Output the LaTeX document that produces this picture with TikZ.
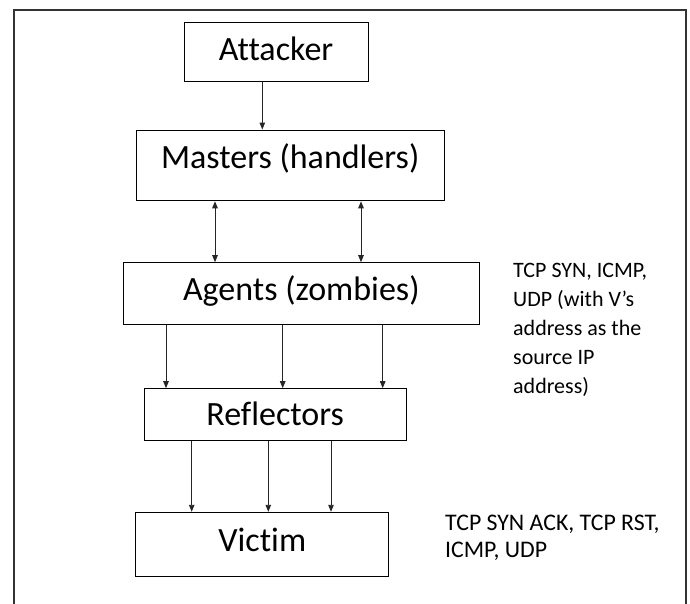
\documentclass[tikz,border=0pt]{standalone}
\usepackage{fontspec}
\setmainfont{Carlito}[Ligatures=NoCommon]
\usetikzlibrary{arrows.meta}
\begin{document}
\begin{tikzpicture}[x=1pt,y=-1pt,
 box/.style={draw=black, line width=1pt, inner sep=0pt, font=\fontsize{34}{40}\selectfont, text height=21.5pt},
 arr/.style={line width=0.9pt, draw=black!85, -{Triangle[length=7pt,width=5.5pt]}},
 darr/.style={line width=0.9pt, draw=black!85, {Triangle[length=7pt,width=5.5pt]}-{Triangle[length=7pt,width=5.5pt]}},
 lbl/.style={anchor=north west, inner sep=0pt, align=left}]
\useasboundingbox (0,0) rectangle (690,603);
\draw[line width=2pt, draw=black!80] (14,615) -- (14,9.5) -- (686,9.5) -- (686,615);
\node[box, minimum width=184pt, minimum height=58.3pt, text depth=4pt] (att) at (276,51.9) {Attacker};
\node[box, minimum width=308.3pt, minimum height=70.7pt, text depth=15.8pt] (mas) at (290.2,165.4) {Masters (handlers)};
\node[box, minimum width=356pt, minimum height=61.6pt, text depth=7pt] (age) at (301.3,293.5) {Agents (zombies)};
\node[box, minimum width=261.7pt, minimum height=51.6pt, text depth=0pt] (ref) at (275.2,414.5) {Reflectors};
\node[box, minimum width=252.7pt, minimum height=64.4pt, text depth=8.4pt] (vic) at (262.3,544.5) {Victim};
\draw[arr] (att.south -| 262.3,0) -- (mas.north -| 262.3,0);
\draw[darr] (mas.south -| 215,0) -- (age.north -| 215,0);
\draw[darr] (mas.south -| 361,0) -- (age.north -| 361,0);
\draw[arr] (age.south -| 166,0) -- (ref.north -| 166,0);
\draw[arr] (age.south -| 282.7,0) -- (ref.north -| 282.7,0);
\draw[arr] (age.south -| 382.7,0) -- (ref.north -| 382.7,0);
\draw[arr] (ref.south -| 191.7,0) -- (vic.north -| 191.7,0);
\draw[arr] (ref.south -| 268.3,0) -- (vic.north -| 268.3,0);
\draw[arr] (ref.south -| 331,0) -- (vic.north -| 331,0);
\node[lbl, font=\fontsize{22}{29}\selectfont] (l1) at (513,262.8) {TCP SYN, ICMP,\\UDP (with V’s\\address as the\\source IP\\address)};
\node[lbl, font=\fontsize{23.8}{27}\selectfont] (l2) at (445,515) {TCP SYN ACK, TCP RST,\\ICMP, UDP};
\end{tikzpicture}
\end{document}
